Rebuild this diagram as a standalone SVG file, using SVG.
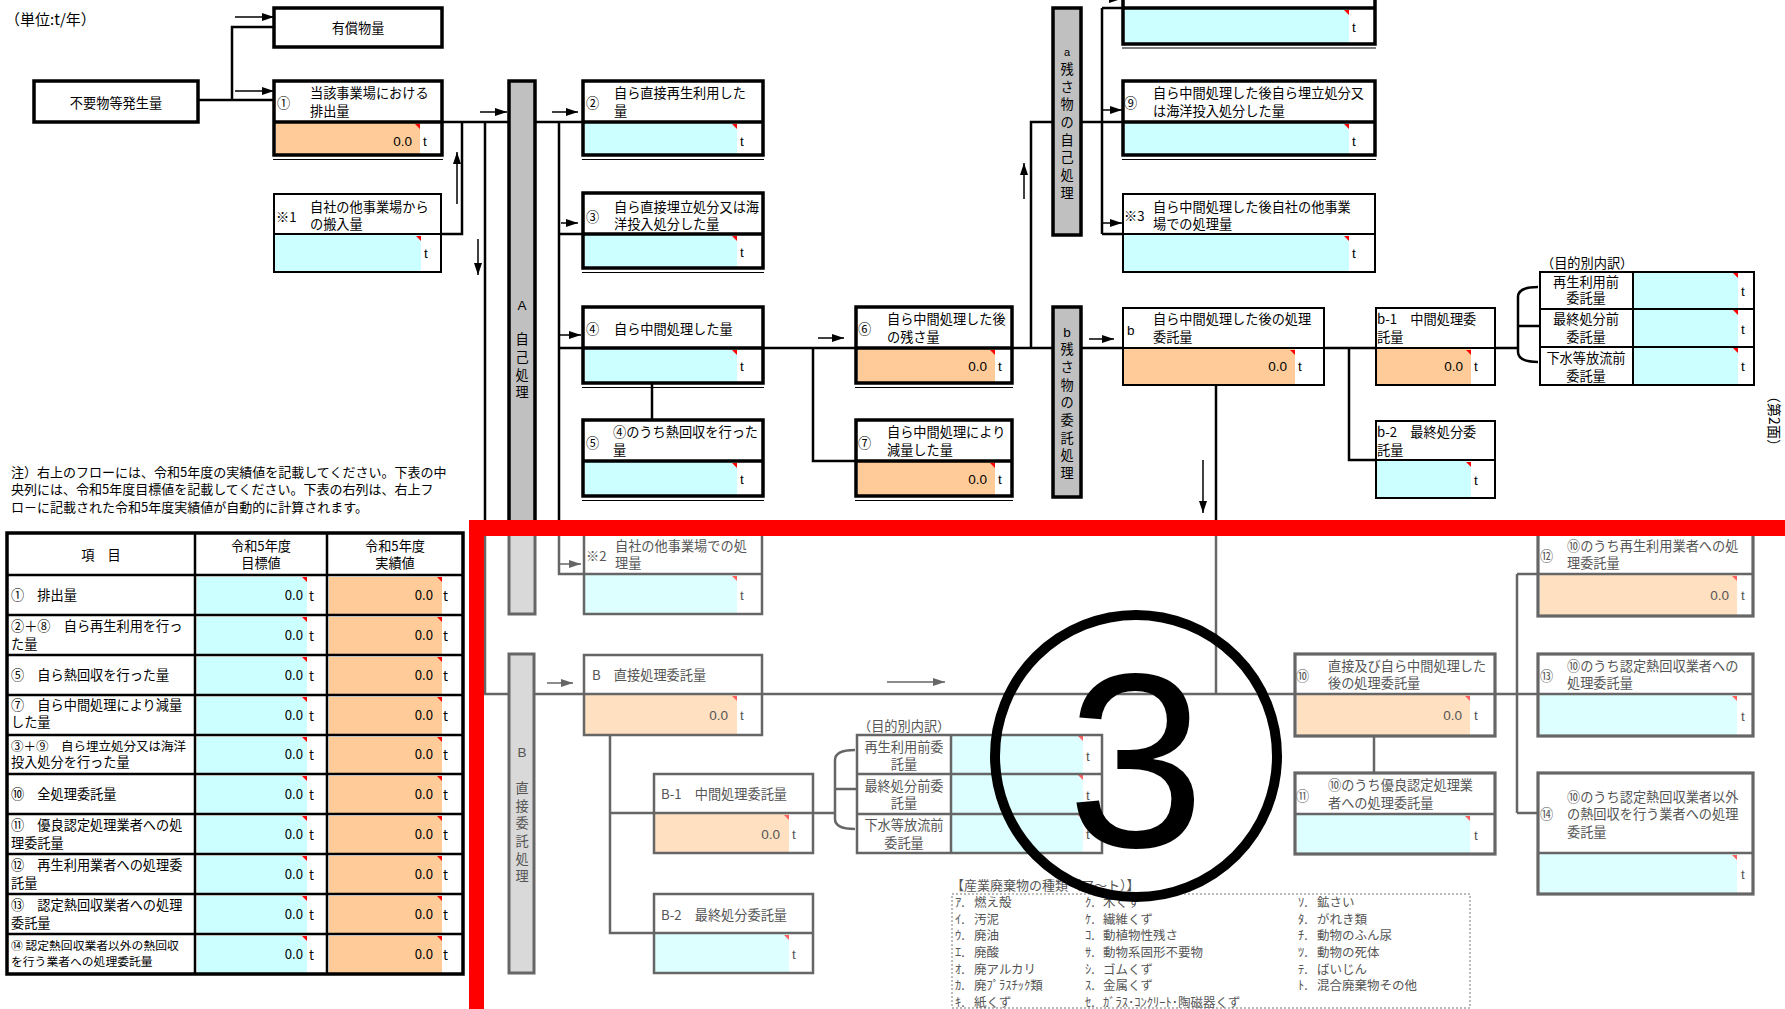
<svg xmlns="http://www.w3.org/2000/svg" width="1785" height="1009" viewBox="0 0 1785 1009">
<style>
.k{fill:none;stroke:#000;stroke-width:3.5}
.k2{fill:none;stroke:#000;stroke-width:1.2}
.s{fill:none;stroke:#000;stroke-width:2}
.g{fill:none;stroke:#666;stroke-width:2.5}
.g3{fill:none;stroke:#666;stroke-width:3.2}
.c{fill:#ccffff}.o{fill:#ffcc99}.cl{fill:#ddffff}.ol{fill:#ffe0c0}
.r{fill:#f00}.rl{fill:#ff6060}
.l{fill:none;stroke:#000;stroke-width:2.5}
.lg{fill:none;stroke:#666;stroke-width:2.5}
.a{fill:none;stroke:#000;stroke-width:1.5;marker-end:url(#ah)}
.ag{fill:none;stroke:#666;stroke-width:1.5;marker-end:url(#ahg)}
text{font-family:"Noto Sans CJK JP","Noto Sans CJK SC",sans-serif;font-size:13.2px;fill:#000}
.gt{fill:#555}
.n{font-family:"Liberation Sans",Arial,sans-serif;font-size:13.5px}
.bar{fill:#c0c0c0;stroke:#000;stroke-width:3.5}
.barg{fill:#d9d9d9;stroke:#666;stroke-width:3}
.m{text-anchor:middle}
.e{text-anchor:end}
.sm{font-size:12.5px}
</style>
<defs>
<marker id="ah" markerUnits="userSpaceOnUse" markerWidth="12" markerHeight="8" refX="12" refY="4" orient="auto"><path d="M0,0L12,4L0,8z" fill="#000"/></marker>
<marker id="ahg" markerUnits="userSpaceOnUse" markerWidth="12" markerHeight="8" refX="12" refY="4" orient="auto"><path d="M0,0L12,4L0,8z" fill="#666"/></marker>
</defs>
<rect width="1785" height="1009" fill="#fff"/>

<text x="5" y="25" style="font-size:15px">（単位:t/年）</text>

<g id="connectors">
<path class="l" d="M198,100H232V27H274M232,100H274"/>
<path class="l" d="M442,122H509"/>
<path class="l" d="M462,122V234H441"/>
<path class="l" d="M485,122V528"/>
<path class="lg" d="M485,528V694H509"/>
<path class="l" d="M535,122H583"/>
<path class="l" d="M559,122V528M559,234H583M559,348H583"/>
<path class="lg" d="M559,528V574H584"/>
<path class="l" d="M652,383V420"/>
<path class="l" d="M763,348H856M813,348V461H856"/>
<path class="l" d="M1012,348H1053M1031,348V122H1053"/>
<path class="l" d="M1081,122H1123M1102,8V234M1102,8H1123M1102,234H1123"/>
<path class="l" d="M1081,348H1123M1324,348H1376M1349,348V460H1376"/>
<path class="l" d="M1495,348H1518M1538,287Q1518,287 1518,297V352Q1518,362 1538,362M1518,326H1540"/>
<path class="l" d="M1216,385V528"/>
<path class="lg" d="M1216,528V694"/>
<path class="lg" d="M534,694H584M762,694H1295"/>
<path class="lg" d="M610,735V933H654M610,813H654"/>
<path class="lg" d="M813,813H835M855,750Q835,750 835,760V819Q835,829 855,829M835,789H857"/>
<path class="lg" d="M1374,736V773"/>
<path class="lg" d="M1495,694H1538M1517,574V813M1517,574H1538M1517,813H1538"/>
<path class="a" d="M235,17H274"/>
<path class="a" d="M235,91H274"/>
<path class="a" d="M480,112H507"/>
<path class="a" d="M552,112H578"/>
<path class="a" d="M457,204V152"/>
<path class="a" d="M478,239V275"/>
<path class="a" d="M561,223H578"/>
<path class="a" d="M560,335H581"/>
<path class="a" d="M818,338H844"/>
<path class="a" d="M1024,199V163"/>
<path class="a" d="M1100,-1H1121"/>
<path class="a" d="M1103,110H1122"/>
<path class="a" d="M1103,223H1122"/>
<path class="a" d="M1089,339H1114"/>
<path class="a" d="M1203,460V513"/>
<path class="ag" d="M560,564H581"/>
<path class="ag" d="M547,683H573"/>
<path class="ag" d="M887,682H945"/>
</g>

<g id="bar-A">
<rect class="bar" x="509" y="81" width="26" height="447"/>
<rect class="barg" x="509" y="528" width="26" height="86"/>
<text class="n m" x="522" y="310">A</text>
<text class="m" x="522" y="344">自</text>
<text class="m" x="522" y="362">己</text>
<text class="m" x="522" y="380">処</text>
<text class="m" x="522" y="397">理</text>
</g>
<g id="bar-a">
<rect class="bar" x="1053" y="8" width="28" height="227"/>
<text class="n m" x="1067" y="56" style="font-size:11px">a</text>
<text class="m" x="1067" y="74">残</text>
<text class="m" x="1067" y="92">さ</text>
<text class="m" x="1067" y="109">物</text>
<text class="m" x="1067" y="127">の</text>
<text class="m" x="1067" y="145">自</text>
<text class="m" x="1067" y="162">己</text>
<text class="m" x="1067" y="180">処</text>
<text class="m" x="1067" y="198">理</text>
</g>
<g id="bar-b">
<rect class="bar" x="1053" y="307" width="28" height="190"/>
<text class="n m" x="1067" y="337">b</text>
<text class="m" x="1067" y="354">残</text>
<text class="m" x="1067" y="372">さ</text>
<text class="m" x="1067" y="390">物</text>
<text class="m" x="1067" y="407">の</text>
<text class="m" x="1067" y="425">委</text>
<text class="m" x="1067" y="443">託</text>
<text class="m" x="1067" y="460">処</text>
<text class="m" x="1067" y="478">理</text>
</g>
<g id="bar-B">
<rect class="barg" x="509" y="654" width="25" height="319"/>
<text class="n m gt" x="522" y="757">B</text>
<text class="m gt" x="522" y="793">直</text>
<text class="m gt" x="522" y="811">接</text>
<text class="m gt" x="522" y="828">委</text>
<text class="m gt" x="522" y="846">託</text>
<text class="m gt" x="522" y="864">処</text>
<text class="m gt" x="522" y="881">理</text>
</g>

<g id="n-yushou">
<rect class="k" x="274" y="8" width="168" height="39"/>
<text class="m" x="358" y="33">有償物量</text>
</g>
<g id="n-fuyou">
<rect class="k" x="34" y="81" width="164" height="41"/>
<text class="m" x="116" y="108">不要物等発生量</text>
</g>

<g id="n1">
<rect class="o" x="276" y="123" width="144" height="31"/>
<path class="r" d="M415,124H420V129z"/>
<rect class="k" x="274" y="81" width="168" height="74"/>
<path class="k" d="M274,122H442"/>
<path class="k2" d="M273,159.5H443"/>
<text x="277" y="108">①</text>
<text x="310" y="98">当該事業場における</text>
<text x="310" y="116">排出量</text>
<text class="n e" x="412" y="146">0.0</text>
<text class="n" x="423" y="146">t</text>
</g>

<g id="n-k1">
<rect class="c" x="275" y="235" width="146" height="36"/>
<path class="r" d="M416,236H421V241z"/>
<rect class="s" x="274" y="194" width="167" height="78"/>
<path class="s" d="M274,234H441"/>
<text x="276" y="222">※1</text>
<text x="310" y="212">自社の他事業場から</text>
<text x="310" y="229">の搬入量</text>
<text class="n" x="424" y="258">t</text>
</g>

<g id="n2">
<rect class="c" x="585" y="123" width="152" height="31"/>
<path class="r" d="M732,124H737V129z"/>
<rect class="k" x="583" y="81" width="180" height="74"/>
<path class="k" d="M583,122H763"/>
<path class="k2" d="M582,159.5H764"/>
<text x="586" y="108">②</text>
<text x="614" y="98">自ら直接再生利用した</text>
<text x="614" y="116">量</text>
<text class="n" x="740" y="146">t</text>
</g>

<g id="n3">
<rect class="c" x="585" y="235" width="152" height="32"/>
<path class="r" d="M732,236H737V241z"/>
<rect class="k" x="583" y="193" width="180" height="75"/>
<path class="k" d="M583,234H763"/>
<path class="k2" d="M582,272.5H764"/>
<text x="586" y="222">③</text>
<text x="614" y="212">自ら直接埋立処分又は海</text>
<text x="614" y="229">洋投入処分した量</text>
<text class="n" x="740" y="257">t</text>
</g>

<g id="n4">
<rect class="c" x="585" y="349" width="152" height="33"/>
<path class="r" d="M732,350H737V355z"/>
<rect class="k" x="583" y="307" width="180" height="76"/>
<path class="k" d="M583,348H763"/>
<path class="k2" d="M582,387.5H764"/>
<text x="586" y="334">④</text>
<text x="614" y="334">自ら中間処理した量</text>
<text class="n" x="740" y="371">t</text>
</g>

<g id="n5">
<rect class="c" x="585" y="462" width="152" height="33"/>
<path class="r" d="M732,463H737V468z"/>
<rect class="k" x="583" y="420" width="180" height="76"/>
<path class="k" d="M583,461H763"/>
<path class="k2" d="M582,500.5H764"/>
<text x="586" y="448">⑤</text>
<text x="613" y="437">④のうち熱回収を行った</text>
<text x="613" y="455">量</text>
<text class="n" x="740" y="484">t</text>
</g>

<g id="n6">
<rect class="o" x="858" y="349" width="137" height="33"/>
<path class="r" d="M990,350H995V355z"/>
<rect class="k" x="856" y="307" width="156" height="76"/>
<path class="k" d="M856,348H1012"/>
<path class="k2" d="M855,387.5H1013"/>
<text x="858" y="334">⑥</text>
<text x="887" y="324">自ら中間処理した後</text>
<text x="887" y="342">の残さ量</text>
<text class="n e" x="987" y="371">0.0</text>
<text class="n" x="998" y="371">t</text>
</g>

<g id="n7">
<rect class="o" x="858" y="462" width="137" height="33"/>
<path class="r" d="M990,463H995V468z"/>
<rect class="k" x="856" y="420" width="156" height="76"/>
<path class="k" d="M856,461H1012"/>
<path class="k2" d="M855,500.5H1013"/>
<text x="858" y="448">⑦</text>
<text x="887" y="437">自ら中間処理により</text>
<text x="887" y="455">減量した量</text>
<text class="n e" x="987" y="484">0.0</text>
<text class="n" x="998" y="484">t</text>
</g>

<g id="n8">
<rect class="c" x="1125" y="9" width="224" height="34"/>
<path class="r" d="M1344,10H1349V15z"/>
<rect class="k" x="1123" y="-33" width="252" height="77"/>
<path class="k" d="M1123,8H1375"/>
<path class="k2" d="M1122,48H1376"/>
<text class="n" x="1352" y="32">t</text>
</g>

<g id="n9">
<rect class="c" x="1125" y="123" width="224" height="31"/>
<path class="r" d="M1344,124H1349V129z"/>
<rect class="k" x="1123" y="81" width="252" height="74"/>
<path class="k" d="M1123,122H1375"/>
<path class="k2" d="M1122,159.5H1376"/>
<text x="1124" y="108">⑨</text>
<text x="1153" y="98">自ら中間処理した後自ら埋立処分又</text>
<text x="1153" y="116">は海洋投入処分した量</text>
<text class="n" x="1352" y="146">t</text>
</g>

<g id="n-k3">
<rect class="c" x="1124" y="235" width="225" height="36"/>
<path class="r" d="M1344,236H1349V241z"/>
<rect class="s" x="1123" y="194" width="252" height="78"/>
<path class="s" d="M1123,234H1375"/>
<text x="1124" y="221">※3</text>
<text x="1153" y="212">自ら中間処理した後自社の他事業</text>
<text x="1153" y="229">場での処理量</text>
<text class="n" x="1352" y="258">t</text>
</g>

<g id="n-b">
<rect class="o" x="1124" y="349" width="171" height="35"/>
<path class="r" d="M1290,350H1295V355z"/>
<rect class="s" x="1123" y="308" width="201" height="77"/>
<path class="s" d="M1123,348H1324"/>
<text class="n" x="1127" y="335">b</text>
<text x="1153" y="324">自ら中間処理した後の処理</text>
<text x="1153" y="342">委託量</text>
<text class="n e" x="1287" y="371">0.0</text>
<text class="n" x="1298" y="371">t</text>
</g>

<g id="n-b1">
<rect class="o" x="1377" y="349" width="94" height="35"/>
<path class="r" d="M1466,350H1471V355z"/>
<rect class="s" x="1376" y="308" width="119" height="77"/>
<path class="s" d="M1376,348H1495"/>
<text x="1377" y="324">b-1　中間処理委</text>
<text x="1377" y="342">託量</text>
<text class="n e" x="1463" y="371">0.0</text>
<text class="n" x="1474" y="371">t</text>
</g>

<g id="n-b2">
<rect class="c" x="1377" y="461" width="94" height="36"/>
<path class="r" d="M1466,462H1471V467z"/>
<rect class="s" x="1376" y="421" width="119" height="77"/>
<path class="s" d="M1376,460H1495"/>
<text x="1377" y="437">b-2　最終処分委</text>
<text x="1377" y="455">託量</text>
<text class="n" x="1474" y="485">t</text>
</g>

<g id="n-uchiwake-upper">
<text x="1541" y="268">（目的別内訳）</text>
<rect class="c" x="1634" y="273" width="104" height="35"/>
<rect class="c" x="1634" y="310" width="104" height="36"/>
<rect class="c" x="1634" y="348" width="104" height="36"/>
<path class="r" d="M1733,273H1738V278zM1733,310H1738V315zM1733,348H1738V353z"/>
<rect class="s" x="1540" y="272" width="214" height="113"/>
<path class="s" d="M1633,272V385M1540,309H1754M1540,347H1754"/>
<text class="m" x="1586" y="287">再生利用前</text>
<text class="m" x="1586" y="303">委託量</text>
<text class="m" x="1586" y="324">最終処分前</text>
<text class="m" x="1586" y="342">委託量</text>
<text class="m" x="1586" y="363">下水等放流前</text>
<text class="m" x="1586" y="381">委託量</text>
<text class="n" x="1741" y="296">t</text>
<text class="n" x="1741" y="334">t</text>
<text class="n" x="1741" y="371">t</text>
</g>

<text transform="translate(1769,421) rotate(90)" class="m" style="font-size:14px">（第2面）</text>

<g id="note">
<text x="11" y="477" style="font-size:13px">注）右上のフローには、令和5年度の実績値を記載してください。下表の中</text>
<text x="11" y="494" style="font-size:13px">央列には、令和5年度目標値を記載してください。下表の右列は、右上フ</text>
<text x="11" y="512" style="font-size:13px">ロ－に記載された令和5年度実績値が自動的に計算されます。</text>
</g>

<g id="table">
<g class="c">
<rect x="197" y="577" width="110" height="37"/><rect x="197" y="617" width="110" height="37"/><rect x="197" y="657" width="110" height="37"/><rect x="197" y="697" width="110" height="37"/><rect x="197" y="737" width="110" height="36"/><rect x="197" y="776" width="110" height="37"/><rect x="197" y="816" width="110" height="37"/><rect x="197" y="856" width="110" height="37"/><rect x="197" y="896" width="110" height="37"/><rect x="197" y="936" width="110" height="37"/>
</g>
<g class="o">
<rect x="329" y="577" width="113" height="37"/><rect x="329" y="617" width="113" height="37"/><rect x="329" y="657" width="113" height="37"/><rect x="329" y="697" width="113" height="37"/><rect x="329" y="737" width="113" height="36"/><rect x="329" y="776" width="113" height="37"/><rect x="329" y="816" width="113" height="37"/><rect x="329" y="856" width="113" height="37"/><rect x="329" y="896" width="113" height="37"/><rect x="329" y="936" width="113" height="37"/>
</g>
<path class="r" d="M302,577H307V582zM302,617H307V622zM302,657H307V662zM302,697H307V702zM302,737H307V742zM302,776H307V781zM302,816H307V821zM302,856H307V861zM302,896H307V901zM302,936H307V941zM437,577H442V582zM437,617H442V622zM437,657H442V662zM437,697H442V702zM437,737H442V742zM437,776H442V781zM437,816H442V821zM437,856H442V861zM437,896H442V901zM437,936H442V941z"/>
<rect x="7" y="533" width="456" height="441" fill="none" stroke="#000" stroke-width="3.5"/>
<path fill="none" stroke="#000" stroke-width="2.5" d="M195,533V974M327,533V974M7,575H463M7,615H463M7,655H463M7,695H463M7,735H463M7,774H463M7,814H463M7,854H463M7,894H463M7,934H463"/>
<text class="m" x="101" y="560">項　目</text>
<text class="m" x="261" y="551">令和5年度</text>
<text class="m" x="261" y="568">目標値</text>
<text class="m" x="395" y="551">令和5年度</text>
<text class="m" x="395" y="568">実績値</text>
<text x="11" y="600">①　排出量</text>
<text x="11" y="631">②＋⑧　自ら再生利用を行っ</text>
<text x="11" y="649">た量</text>
<text x="11" y="680">⑤　自ら熱回収を行った量</text>
<text x="11" y="710">⑦　自ら中間処理により減量</text>
<text x="11" y="727">した量</text>
<text x="11" y="751" style="font-size:12.5px">③＋⑨　自ら埋立処分又は海洋</text>
<text x="11" y="767">投入処分を行った量</text>
<text x="11" y="799">⑩　全処理委託量</text>
<text x="11" y="830">⑪　優良認定処理業者への処</text>
<text x="11" y="848">理委託量</text>
<text x="11" y="870">⑫　再生利用業者への処理委</text>
<text x="11" y="888">託量</text>
<text x="11" y="910">⑬　認定熱回収業者への処理</text>
<text x="11" y="928">委託量</text>
<text x="11" y="950" style="font-size:11.8px">⑭ 認定熱回収業者以外の熱回収</text>
<text x="11" y="966" style="font-size:11.8px">を行う業者への処理委託量</text>
<g class="n">
<text class="e" x="303" y="600">0.0</text><text class="e" x="303" y="640">0.0</text><text class="e" x="303" y="680">0.0</text><text class="e" x="303" y="720">0.0</text><text class="e" x="303" y="759">0.0</text><text class="e" x="303" y="799">0.0</text><text class="e" x="303" y="839">0.0</text><text class="e" x="303" y="879">0.0</text><text class="e" x="303" y="919">0.0</text><text class="e" x="303" y="959">0.0</text>
<text class="e" x="433" y="600">0.0</text><text class="e" x="433" y="640">0.0</text><text class="e" x="433" y="680">0.0</text><text class="e" x="433" y="720">0.0</text><text class="e" x="433" y="759">0.0</text><text class="e" x="433" y="799">0.0</text><text class="e" x="433" y="839">0.0</text><text class="e" x="433" y="879">0.0</text><text class="e" x="433" y="919">0.0</text><text class="e" x="433" y="959">0.0</text>
<text x="309" y="601">t</text><text x="309" y="641">t</text><text x="309" y="681">t</text><text x="309" y="721">t</text><text x="309" y="760">t</text><text x="309" y="800">t</text><text x="309" y="840">t</text><text x="309" y="880">t</text><text x="309" y="920">t</text><text x="309" y="960">t</text>
<text x="443" y="601">t</text><text x="443" y="641">t</text><text x="443" y="681">t</text><text x="443" y="721">t</text><text x="443" y="760">t</text><text x="443" y="800">t</text><text x="443" y="840">t</text><text x="443" y="880">t</text><text x="443" y="920">t</text><text x="443" y="960">t</text>
</g>
</g>

<g id="n-k2">
<rect class="cl" x="585" y="575" width="152" height="38"/>
<path class="rl" d="M732,576H737V581z"/>
<rect class="g" x="584" y="530" width="178" height="84"/>
<path class="g" d="M584,574H762"/>
<text class="gt" x="586" y="561">※2</text>
<text class="gt" x="615" y="551">自社の他事業場での処</text>
<text class="gt" x="615" y="568">理量</text>
<text class="n gt" x="740" y="600">t</text>
</g>

<g id="n-B">
<rect class="ol" x="585" y="695" width="152" height="39"/>
<path class="rl" d="M732,696H737V701z"/>
<rect class="g" x="584" y="655" width="178" height="80"/>
<path class="g" d="M584,694H762"/>
<text class="gt" x="592" y="680">B　直接処理委託量</text>
<text class="n e gt" x="728" y="720">0.0</text>
<text class="n gt" x="740" y="720">t</text>
</g>

<g id="n-B1">
<rect class="ol" x="655" y="814" width="134" height="38"/>
<path class="rl" d="M784,815H789V820z"/>
<rect class="g" x="654" y="774" width="159" height="79"/>
<path class="g" d="M654,813H813"/>
<text class="gt" x="661" y="799">B-1　中間処理委託量</text>
<text class="n e gt" x="780" y="839">0.0</text>
<text class="n gt" x="792" y="839">t</text>
</g>

<g id="n-B2">
<rect class="cl" x="655" y="934" width="134" height="38"/>
<path class="rl" d="M784,935H789V940z"/>
<rect class="g" x="654" y="894" width="159" height="79"/>
<path class="g" d="M654,933H813"/>
<text class="gt" x="661" y="920">B-2　最終処分委託量</text>
<text class="n gt" x="792" y="959">t</text>
</g>

<g id="n-uchiwake-lower">
<text class="gt" x="858" y="731">（目的別内訳）</text>
<rect class="cl" x="952" y="736" width="131" height="37"/>
<rect class="cl" x="952" y="775" width="131" height="38"/>
<rect class="cl" x="952" y="815" width="131" height="37"/>
<path class="rl" d="M1078,736H1083V741zM1078,775H1083V780zM1078,815H1083V820z"/>
<rect class="g" x="857" y="735" width="245" height="118"/>
<path class="g" d="M951,735V853M857,774H1102M857,814H1102"/>
<text class="m gt" x="904" y="752">再生利用前委</text>
<text class="m gt" x="904" y="769">託量</text>
<text class="m gt" x="904" y="791">最終処分前委</text>
<text class="m gt" x="904" y="808">託量</text>
<text class="m gt" x="904" y="830">下水等放流前</text>
<text class="m gt" x="904" y="848">委託量</text>
<text class="n gt" x="1086" y="761">t</text>
<text class="n gt" x="1086" y="800">t</text>
<text class="n gt" x="1086" y="839">t</text>
</g>

<g id="n10">
<rect class="ol" x="1297" y="695" width="173" height="40"/>
<path class="rl" d="M1465,696H1470V701z"/>
<rect class="g3" x="1295" y="654" width="200" height="82"/>
<path class="g" d="M1295,694H1495"/>
<text class="gt" x="1296" y="681">⑩</text>
<text class="gt" x="1328" y="671">直接及び自ら中間処理した</text>
<text class="gt" x="1328" y="688">後の処理委託量</text>
<text class="n e gt" x="1462" y="720">0.0</text>
<text class="n gt" x="1474" y="720">t</text>
</g>

<g id="n11">
<rect class="cl" x="1297" y="815" width="173" height="38"/>
<path class="rl" d="M1465,816H1470V821z"/>
<rect class="g3" x="1295" y="773" width="200" height="81"/>
<path class="g" d="M1295,814H1495"/>
<text class="gt" x="1296" y="801">⑪</text>
<text class="gt" x="1328" y="790">⑩のうち優良認定処理業</text>
<text class="gt" x="1328" y="808">者への処理委託量</text>
<text class="n gt" x="1474" y="840">t</text>
</g>

<g id="n12">
<rect class="ol" x="1540" y="575" width="197" height="40"/>
<path class="rl" d="M1732,576H1737V581z"/>
<rect class="g3" x="1538" y="530" width="215" height="86"/>
<path class="g" d="M1538,574H1753"/>
<text class="gt" x="1540" y="561">⑫</text>
<text class="gt" x="1567" y="551">⑩のうち再生利用業者への処</text>
<text class="gt" x="1567" y="568">理委託量</text>
<text class="n e gt" x="1729" y="600">0.0</text>
<text class="n gt" x="1741" y="600">t</text>
</g>

<g id="n13">
<rect class="cl" x="1540" y="695" width="197" height="40"/>
<path class="rl" d="M1732,696H1737V701z"/>
<rect class="g3" x="1538" y="654" width="215" height="82"/>
<path class="g" d="M1538,694H1753"/>
<text class="gt" x="1540" y="681">⑬</text>
<text class="gt" x="1567" y="671">⑩のうち認定熱回収業者への</text>
<text class="gt" x="1567" y="688">処理委託量</text>
<text class="n gt" x="1741" y="721">t</text>
</g>

<g id="n14">
<rect class="cl" x="1540" y="854" width="197" height="39"/>
<path class="rl" d="M1732,855H1737V860z"/>
<rect class="g3" x="1538" y="773" width="215" height="121"/>
<path class="g" d="M1538,853H1753"/>
<text class="gt" x="1540" y="819">⑭</text>
<text class="gt" x="1567" y="802">⑩のうち認定熱回収業者以外</text>
<text class="gt" x="1567" y="819">の熱回収を行う業者への処理</text>
<text class="gt" x="1567" y="837">委託量</text>
<text class="n gt" x="1741" y="879">t</text>
</g>

<g id="legend">
<text class="gt" x="951" y="890" style="font-size:13px">【産業廃棄物の種類（ア～ト）】</text>
<rect x="952" y="894" width="518" height="114" fill="none" stroke="#777" stroke-width="1" stroke-dasharray="2,2"/>
<g class="gt sm">
<text class="gt sm" x="955" y="907">ｱ.</text><text class="gt sm" x="974" y="907">燃え殻</text>
<text class="gt sm" x="955" y="924">ｲ.</text><text class="gt sm" x="974" y="924">汚泥</text>
<text class="gt sm" x="955" y="940">ｳ.</text><text class="gt sm" x="974" y="940">廃油</text>
<text class="gt sm" x="955" y="957">ｴ.</text><text class="gt sm" x="974" y="957">廃酸</text>
<text class="gt sm" x="955" y="974">ｵ.</text><text class="gt sm" x="974" y="974">廃アルカリ</text>
<text class="gt sm" x="955" y="990">ｶ.</text><text class="gt sm" x="974" y="990">廃ﾌﾟﾗｽﾁｯｸ類</text>
<text class="gt sm" x="955" y="1007">ｷ.</text><text class="gt sm" x="974" y="1007">紙くず</text>
<text class="gt sm" x="1085" y="907">ｸ.</text><text class="gt sm" x="1103" y="907">木くず</text>
<text class="gt sm" x="1085" y="924">ｹ.</text><text class="gt sm" x="1103" y="924">繊維くず</text>
<text class="gt sm" x="1085" y="940">ｺ.</text><text class="gt sm" x="1103" y="940">動植物性残さ</text>
<text class="gt sm" x="1085" y="957">ｻ.</text><text class="gt sm" x="1103" y="957">動物系固形不要物</text>
<text class="gt sm" x="1085" y="974">ｼ.</text><text class="gt sm" x="1103" y="974">ゴムくず</text>
<text class="gt sm" x="1085" y="990">ｽ.</text><text class="gt sm" x="1103" y="990">金属くず</text>
<text class="gt sm" x="1085" y="1007">ｾ.</text><text class="gt sm" x="1103" y="1007">ｶﾞﾗｽ･ｺﾝｸﾘｰﾄ･陶磁器くず</text>
<text class="gt sm" x="1298" y="907">ｿ.</text><text class="gt sm" x="1317" y="907">鉱さい</text>
<text class="gt sm" x="1298" y="924">ﾀ.</text><text class="gt sm" x="1317" y="924">がれき類</text>
<text class="gt sm" x="1298" y="940">ﾁ.</text><text class="gt sm" x="1317" y="940">動物のふん尿</text>
<text class="gt sm" x="1298" y="957">ﾂ.</text><text class="gt sm" x="1317" y="957">動物の死体</text>
<text class="gt sm" x="1298" y="974">ﾃ.</text><text class="gt sm" x="1317" y="974">ばいじん</text>
<text class="gt sm" x="1298" y="990">ﾄ.</text><text class="gt sm" x="1317" y="990">混合廃棄物その他</text>
</g>
</g>

<g id="annotation">
<rect x="469" y="520" width="1316" height="16" fill="#f00"/>
<rect x="469" y="520" width="15" height="489" fill="#f00"/>
<circle cx="1136" cy="756" r="141" fill="none" stroke="#000" stroke-width="10"/>
<text x="1136" y="847" text-anchor="middle" style="font-family:'Liberation Sans',Arial,sans-serif;font-size:248px">3</text>
</g>
</svg>
